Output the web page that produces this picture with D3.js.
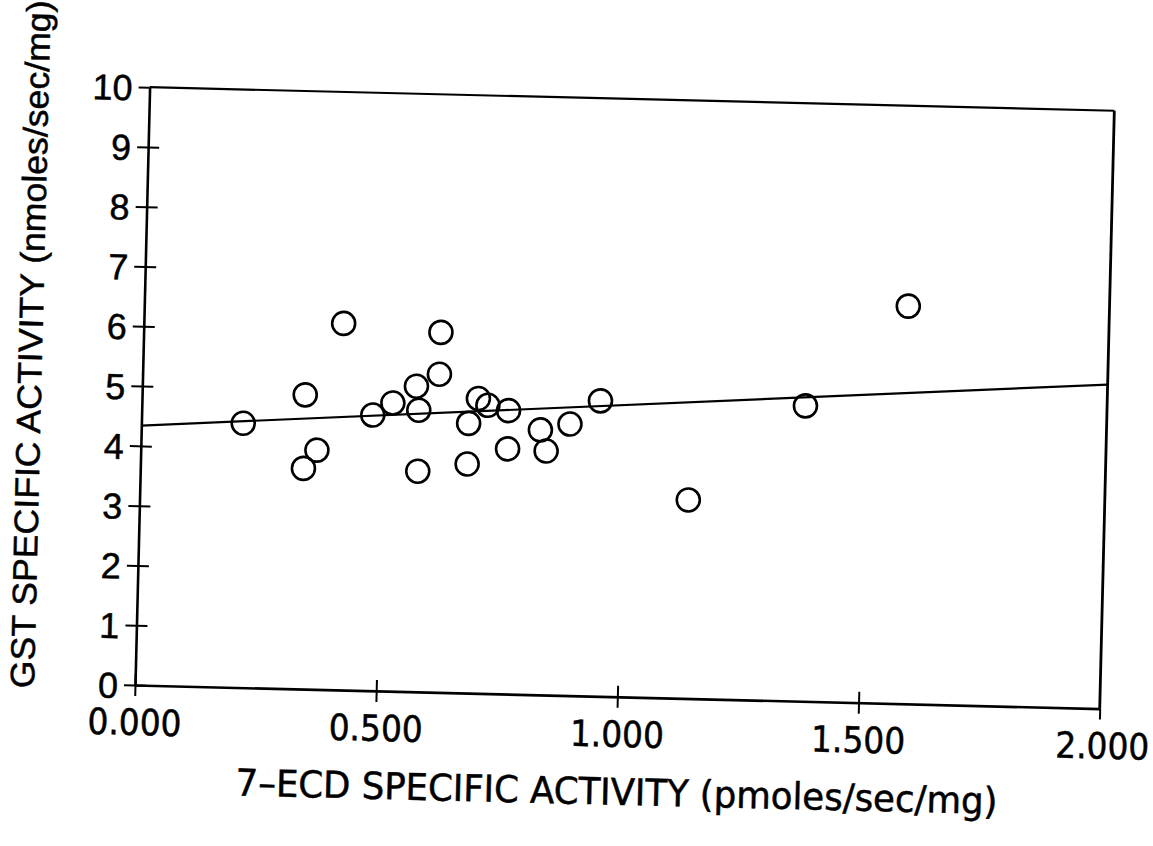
<!DOCTYPE html>
<html lang="en">
	<head>
		<meta charset="utf-8">
		<title>GST vs 7-ECD specific activity</title>
		<style>
			body {
				margin: 0;
				background: #fff;
			}
			#graph text {
				fill: #000;
				stroke: #000;
				stroke-width: 0.5px;
			}
		</style>
	</head>
	<body>

		<svg id="graph" width="1153" height="846"></svg>

		<script src="https://d3js.org/d3.v7.min.js"></script>
		<script>
			"use strict";

			// 7-ECD specific activity (pmoles/sec/mg)
			var ecd = [0.211, 0.338, 0.338, 0.365, 0.414, 0.479, 0.520, 0.568, 0.574, 0.575,
				0.615, 0.616, 0.678, 0.677, 0.697, 0.717, 0.760, 0.760, 0.827, 0.840,
				0.888, 0.950, 1.137, 1.375, 1.583];
			// GST specific activity (nmoles/sec/mg)
			var gst = [4.42, 4.92, 3.69, 4.00, 6.13, 4.61, 4.82, 5.11, 4.71, 3.69,
				5.32, 6.02, 4.51, 3.83, 4.93, 4.82, 4.74, 4.10, 4.43, 4.08,
				4.54, 4.94, 3.32, 4.94, 6.65];
			// fitted line ends
			var fitX = [0, 2.0];
			var fitY = [4.34, 5.42];

			var xTicks = [0, 0.5, 1.0, 1.5, 2.0];
			var xTickLabels = ["0.000", "0.500", "1.000", "1.500", "2.000"];
			var yTicks = [0, 1, 2, 3, 4, 5, 6, 7, 8, 9, 10];
			var xTitle = "7\u2013ECD SPECIFIC ACTIVITY (pmoles/sec/mg)";
			var yTitle = "GST SPECIFIC ACTIVITY (nmoles/sec/mg)";

			var W = 965, H = 598;

			var svg = d3.select("#graph");

			// the scanned page is turned a little, so the whole plot is turned too
			var page = svg.append("g")
				.attr("transform", "translate(135,685) rotate(1.4) translate(0," + (-H) + ")");

			var x = d3.scaleLinear().domain([0, 2]).range([0, W]);
			var y = d3.scaleLinear().domain([0, 10]).range([H, 0]);

			// frame top and right
			page.append("line")
				.attr("x1", 0).attr("y1", 0).attr("x2", W).attr("y2", 0)
				.attr("stroke", "#000").attr("stroke-width", 2.2);
			page.append("line")
				.attr("x1", W).attr("y1", 0).attr("x2", W).attr("y2", H)
				.attr("stroke", "#000").attr("stroke-width", 2.8);

			var yAxis = page.append("g")
				.call(d3.axisLeft(y).tickValues(yTicks).tickSize(11).tickSizeOuter(0).tickFormat(d3.format("d")));
			yAxis.attr("font-size", 36).attr("font-family", "'Liberation Sans', Arial, sans-serif");
			yAxis.select(".domain").attr("stroke-width", 2.6);
			yAxis.selectAll(".tick line")
				.attr("x1", function(d){ return d === 10 ? 0 : 11; })
				.attr("stroke-width", 2);
			yAxis.selectAll(".tick text")
				.attr("x", -17)
				.attr("dy", "0.36em")
				.style("font-size", "36px");

			var xAxis = page.append("g")
				.attr("transform", "translate(0," + H + ")")
				.call(d3.axisBottom(x).tickValues(xTicks).tickSize(11).tickSizeOuter(0)
					.tickFormat(function(d, i){ return xTickLabels[i]; }));
			xAxis.attr("font-size", 36).attr("font-family", "'Liberation Sans Narrow', 'DejaVu Sans Condensed', sans-serif");
			xAxis.select(".domain").attr("stroke-width", 2.6);
			xAxis.selectAll(".tick line")
				.attr("y1", function(d){ return d === 2 ? 0 : -11; })
				.attr("stroke-width", 2);
			xAxis.selectAll(".tick text")
				.attr("y", 50)
				.attr("dy", 0)
				.attr("textLength", 94)
				.attr("lengthAdjust", "spacingAndGlyphs")
				.style("font-size", "36px");
			xAxis.select(".tick:last-of-type text").attr("x", 3);

			// fitted line
			page.append("line")
				.attr("x1", x(fitX[0])).attr("y1", y(fitY[0]))
				.attr("x2", x(fitX[1])).attr("y2", y(fitY[1]))
				.attr("stroke", "#000").attr("stroke-width", 2.2);

			// points
			page.append("g")
				.selectAll("circle")
				.data(ecd)
				.enter()
				.append("circle")
				.attr("cx", function(d, i){ return x(d); })
				.attr("cy", function(d, i){ return y(gst[i]); })
				.attr("r", 11.5)
				.attr("fill", "none")
				.attr("stroke", "#000")
				.attr("stroke-width", 2.6);

			// axis titles
			page.append("text")
				.attr("x", 484).attr("y", H + 108)
				.attr("text-anchor", "middle")
				.attr("textLength", 762)
				.attr("lengthAdjust", "spacingAndGlyphs")
				.style("font-family", "'Liberation Sans Narrow', 'DejaVu Sans Condensed', sans-serif")
				.style("font-size", "37px")
				.text(xTitle);

			page.append("text")
				.attr("transform", "translate(-101," + (H - 338) + ") rotate(-90)")
				.attr("text-anchor", "middle")
				.attr("textLength", 688)
				.attr("lengthAdjust", "spacingAndGlyphs")
				.style("font-family", "'Liberation Sans', Arial, sans-serif")
				.style("font-size", "34px")
				.text(yTitle);

		</script>
	</body>
</html>
